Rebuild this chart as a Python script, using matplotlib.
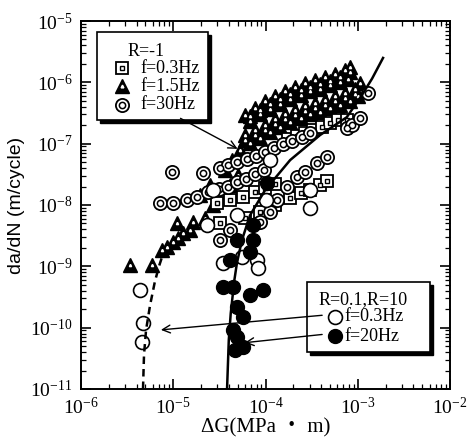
import matplotlib.pyplot as plt
from matplotlib.patches import Rectangle
from matplotlib.ticker import LogLocator, NullFormatter

plt.rcParams['font.family'] = ['Liberation Serif', 'Noto Sans CJK JP', 'DejaVu Sans']
plt.rcParams['mathtext.fontset'] = 'custom'
plt.rcParams['mathtext.rm'] = 'Liberation Serif'
plt.rcParams['mathtext.it'] = 'Liberation Serif:italic'

# R=-1, f=1.5Hz (triangles)
tri_x = [3.4e-6, 5.9e-6, 7.6e-6, 8.6e-6, 9.9e-6, 1.12e-5, 1.28e-5, 1.52e-5, 1.64e-5, 1.10e-5,
         2.2e-5, 2.7e-5, 3.4e-5, 4.1e-5, 5.0e-5, 1.95e-5, 2.5e-5, 3.6e-5, 4.3e-5, 5.3e-5,
         6.0e-5, 7.7e-5, 9.9e-5, 1.27e-4, 1.63e-4, 2.1e-4, 2.7e-4, 3.4e-4, 4.4e-4, 5.7e-4, 7.3e-4, 8.2e-4,
         6.8e-5, 8.7e-5, 1.12e-4, 1.44e-4, 1.85e-4, 2.4e-4, 3.0e-4, 3.9e-4, 5.0e-4, 6.4e-4, 7.8e-4,
         6.8e-5, 8.7e-5, 1.12e-4, 1.44e-4, 1.85e-4, 2.4e-4, 3.0e-4, 3.9e-4, 5.0e-4, 6.4e-4, 8.2e-4,
         6.0e-5, 7.7e-5, 9.9e-5, 1.27e-4, 1.63e-4, 2.1e-4, 2.7e-4, 3.4e-4, 4.4e-4, 5.7e-4, 7.3e-4, 9.3e-4, 1.06e-3,
         6.8e-5, 8.7e-5, 1.12e-4, 1.44e-4, 1.85e-4, 2.4e-4, 3.0e-4, 3.9e-4, 5.0e-4, 6.4e-4, 8.2e-4, 1.0e-3,
         6.0e-5, 7.7e-5, 9.9e-5, 1.27e-4, 1.63e-4, 2.1e-4, 2.7e-4, 3.4e-4, 4.4e-4, 5.7e-4, 7.3e-4, 9.3e-4]
tri_y = [1.05e-9, 1.05e-9, 1.84e-9, 2.1e-9, 2.5e-9, 2.9e-9, 3.5e-9, 3.9e-9, 5.3e-9, 5.1e-9,
         6.1e-9, 1.0e-8, 1.45e-8, 2.1e-8, 3.1e-8, 1.45e-8, 2.1e-8, 3.7e-8, 5.4e-8, 7.9e-8,
         2.9e-7, 3.8e-7, 4.95e-7, 6.0e-7, 7.2e-7, 8.4e-7, 9.8e-7, 1.09e-6, 1.22e-6, 1.37e-6, 1.59e-6, 1.78e-6,
         2.3e-7, 3.0e-7, 3.7e-7, 4.5e-7, 5.3e-7, 6.2e-7, 7.1e-7, 7.9e-7, 8.9e-7, 1.01e-6, 1.15e-6,
         2.8e-7, 3.6e-7, 4.5e-7, 5.4e-7, 6.4e-7, 7.5e-7, 8.5e-7, 9.5e-7, 1.07e-6, 1.22e-6, 1.47e-6,
         1.38e-7, 1.67e-7, 2.0e-7, 2.5e-7, 3.0e-7, 3.5e-7, 4.1e-7, 4.6e-7, 5.1e-7, 6.0e-7, 6.7e-7, 7.8e-7, 9.8e-7,
         1.04e-7, 1.26e-7, 1.55e-7, 1.90e-7, 2.25e-7, 2.6e-7, 3.0e-7, 3.3e-7, 3.8e-7, 4.3e-7, 4.95e-7, 6.0e-7,
         1.15e-7, 1.38e-7, 1.67e-7, 2.1e-7, 2.5e-7, 2.9e-7, 3.4e-7, 3.8e-7, 4.3e-7, 4.95e-7, 5.5e-7, 6.4e-7]

# R=-1, f=0.3Hz (squares)
sq_x = [1.75e-4, 2.2e-4, 2.7e-4, 3.3e-4, 4.1e-4, 5.0e-4, 6.1e-4, 7.6e-4,
        3.0e-5, 4.1e-5, 5.7e-5, 7.7e-5, 9.9e-5, 1.27e-4,
        3.2e-5, 6.0e-5, 8.7e-5, 1.27e-4, 1.85e-4, 2.4e-4, 3.0e-4, 3.9e-4, 4.6e-4]
sq_y = [1.19e-7, 1.33e-7, 1.49e-7, 1.67e-7, 1.87e-7, 2.2e-7, 2.4e-7, 2.4e-7,
        1.07e-8, 1.2e-8, 1.35e-8, 1.62e-8, 1.89e-8, 2.2e-8,
        5.1e-9, 6.1e-9, 7.7e-9, 1.0e-8, 1.30e-8, 1.56e-8, 1.75e-8, 2.1e-8, 2.5e-8]

# R=-1, f=30Hz (double circles)
dc_x = [9.7e-6, 2.1e-5,
        7.2e-6, 9.9e-6, 1.41e-5, 1.81e-5, 2.4e-5, 3.1e-5, 3.9e-5, 4.9e-5, 6.2e-5, 7.7e-5, 9.6e-5,
        3.2e-5, 3.9e-5, 4.9e-5, 6.3e-5, 7.9e-5, 9.9e-5, 1.24e-4, 1.55e-4, 1.94e-4, 2.5e-4, 3.0e-4,
        7.6e-4, 8.7e-4, 1.06e-3, 1.29e-3,
        3.2e-5, 4.1e-5, 8.7e-5, 1.12e-4, 1.33e-4, 1.71e-4, 2.2e-4, 2.7e-4, 3.6e-4, 4.6e-4]
dc_y = [3.4e-8, 3.3e-8,
        1.07e-8, 1.07e-8, 1.2e-8, 1.35e-8, 1.62e-8, 1.82e-8, 2.0e-8, 2.4e-8, 2.7e-8, 3.2e-8, 3.7e-8,
        4.0e-8, 4.5e-8, 5.0e-8, 5.6e-8, 6.3e-8, 7.3e-8, 8.5e-8, 9.8e-8, 1.10e-7, 1.28e-7, 1.49e-7,
        1.8e-7, 2.0e-7, 2.6e-7, 6.7e-7,
        2.7e-9, 3.9e-9, 5.3e-9, 7.7e-9, 1.2e-8, 1.96e-8, 2.85e-8, 3.4e-8, 4.8e-8, 6.0e-8]

# R=0.1, R=10, f=0.3Hz (open circles)
oc_x = [4.4e-6, 4.7e-6, 4.6e-6, 2.3e-5, 2.7e-5, 4.9e-5, 3.5e-5, 5.6e-5, 8.1e-5, 8.3e-5,
        1.12e-4, 3.0e-4, 3.0e-4, 1.0e-4]
oc_y = [4.1e-10, 1.18e-10, 5.8e-11, 4.7e-9, 1.75e-8, 6.8e-9, 1.13e-9, 1.41e-9, 1.26e-9, 9.4e-10,
        5.4e-8, 1.75e-8, 8.9e-9, 1.2e-8]

# R=0.1, R=10, f=20Hz (filled circles)
fc_x = [7.3e-5, 6.8e-5, 4.9e-5, 4.1e-5, 3.5e-5, 4.4e-5, 6.8e-5, 9.4e-5, 4.9e-5, 5.7e-5,
        4.4e-5, 4.9e-5, 4.7e-5, 5.7e-5, 1.04e-4, 7.3e-5]
fc_y = [2.7e-9, 1.7e-9, 2.7e-9, 1.26e-9, 4.6e-10, 4.6e-10, 3.4e-10, 4.1e-10, 2.2e-10, 1.48e-10,
        9.1e-11, 7.0e-11, 4.3e-11, 4.8e-11, 2.3e-8, 4.7e-9]

# fitted curves
solid_x = [3.83e-5, 4.0e-5, 4.2e-5, 4.6e-5, 4.9e-5, 5.56e-5, 6.8e-5, 9.9e-5, 1.85e-4, 3.9e-4,
           7.6e-4, 1.11e-3, 1.43e-3, 1.88e-3]
solid_y = [1.0e-11, 6.3e-11, 1.72e-10, 6.0e-10, 1.13e-9, 2.7e-9, 6.8e-9, 1.75e-8, 5.4e-8, 1.38e-7,
           2.7e-7, 6.2e-7, 1.15e-6, 2.5e-6]
dash_x = [4.70e-6, 4.82e-6, 5.07e-6, 5.6e-6, 6.3e-6, 7.0e-6, 7.55e-6]
dash_y = [1.0e-11, 3.6e-11, 9.1e-11, 2.3e-10, 5.5e-10, 1.0e-9, 1.41e-9]

fig = plt.figure(figsize=(4.74, 4.46), dpi=100)
ax = fig.add_axes([81 / 474, 57 / 446, 369 / 474, 368 / 446])
ax.set_xscale('log')
ax.set_yscale('log')
ax.set_xlim(1e-6, 1e-2)
ax.set_ylim(1e-11, 1e-5)

ms = 9.5
ax.plot(tri_x, tri_y, '^', ms=ms, mfc='black', mec='black', zorder=2)
ax.plot(tri_x, tri_y, '^', ms=1.6, mfc='white', mec='white', zorder=2)
ax.plot(sq_x, sq_y, 's', ms=8, mfc='white', mec='black', mew=1.3, zorder=3)
ax.plot(sq_x, sq_y, 's', ms=3.5, mfc='white', mec='black', mew=1.0, zorder=3)
ax.plot(dc_x, dc_y, 'o', ms=ms, mfc='white', mec='black', mew=1.3, zorder=3)
ax.plot(dc_x, dc_y, 'o', ms=4.5, mfc='white', mec='black', mew=1.1, zorder=3)
ax.plot(oc_x, oc_y, 'o', ms=10, mfc='white', mec='black', mew=1.2, zorder=4)
ax.plot(fc_x, fc_y, 'o', ms=10, mfc='black', mec='black', zorder=4)

ax.plot(solid_x, solid_y, '-', color='black', lw=1.8, zorder=5)
ax.plot(dash_x, dash_y, '--', color='black', lw=1.8, dashes=(3, 2), zorder=5)

for s in ax.spines.values():
    s.set_linewidth(1.4)
for axis in (ax.xaxis, ax.yaxis):
    axis.set_major_locator(LogLocator(base=10, numticks=20))
    axis.set_minor_locator(LogLocator(base=10, subs=range(2, 10), numticks=20))
    axis.set_minor_formatter(NullFormatter())
ax.tick_params(which='both', direction='in', top=True, right=True)
ax.tick_params(which='major', length=7, width=1.2, labelsize=14, pad=6)
ax.tick_params(which='minor', length=3.5, width=0.9)

ax.set_xlabel('\u0394G(MPa \u30fb m)', fontsize=15, labelpad=0)
ax.set_ylabel('da/dN (m/cycle)', fontsize=14, family=['Liberation Sans'], labelpad=4)

# legend boxes with drop shadow
def box(x0, y0, x1, y1):
    ax.add_patch(Rectangle((x0 + 0.008, y0 - 0.008), x1 - x0, y1 - y0, transform=ax.transAxes,
                           facecolor='black', edgecolor='black', zorder=6, clip_on=False))
    ax.add_patch(Rectangle((x0, y0), x1 - x0, y1 - y0, transform=ax.transAxes,
                           facecolor='white', edgecolor='black', lw=1.2, zorder=7, clip_on=False))

box(0.043, 0.731, 0.344, 0.970)
ax.text(0.125, 0.916, 'R=-1', transform=ax.transAxes, fontsize=13, va='center', zorder=8)
rows = [(0.872, 'f=0.3Hz'), (0.823, 'f=1.5Hz'), (0.772, 'f=30Hz')]
ax.plot([0.111], [0.872], 's', ms=8, mfc='white', mec='black', mew=1.3, transform=ax.transAxes, zorder=8)
ax.plot([0.111], [0.872], 's', ms=3.5, mfc='white', mec='black', mew=1.0, transform=ax.transAxes, zorder=8)
ax.plot([0.111], [0.823], '^', ms=ms, mfc='black', mec='black', transform=ax.transAxes, zorder=8)
ax.plot([0.111], [0.823], '^', ms=2.0, mfc='white', mec='white', transform=ax.transAxes, zorder=8)
ax.plot([0.111], [0.772], 'o', ms=ms, mfc='white', mec='black', mew=1.3, transform=ax.transAxes, zorder=8)
ax.plot([0.111], [0.772], 'o', ms=4.5, mfc='white', mec='black', mew=1.1, transform=ax.transAxes, zorder=8)
for yy, lab in rows:
    ax.text(0.160, yy, lab, transform=ax.transAxes, fontsize=13, va='center', zorder=8)

box(0.612, 0.101, 0.946, 0.291)
ax.text(0.764, 0.242, 'R=0.1,R=10', transform=ax.transAxes, fontsize=13, ha='center', va='center', zorder=8)
ax.plot([0.688], [0.196], 'o', ms=10, mfc='white', mec='black', mew=1.2, transform=ax.transAxes, zorder=8)
ax.plot([0.688], [0.144], 'o', ms=10, mfc='black', mec='black', transform=ax.transAxes, zorder=8)
ax.text(0.715, 0.196, 'f=0.3Hz', transform=ax.transAxes, fontsize=13, va='center', zorder=8)
ax.text(0.715, 0.144, 'f=20Hz', transform=ax.transAxes, fontsize=13, va='center', zorder=8)

arrow = dict(arrowstyle='->', color='black', lw=1.0, mutation_scale=14)
ax.annotate('', xy=(0.431, 0.649), xytext=(0.263, 0.739), xycoords='axes fraction', arrowprops=arrow, zorder=9)
ax.annotate('', xy=(0.209, 0.160), xytext=(0.661, 0.201), xycoords='axes fraction', arrowprops=arrow, zorder=9)
ax.annotate('', xy=(0.436, 0.125), xytext=(0.661, 0.149), xycoords='axes fraction', arrowprops=arrow, zorder=9)

fig.savefig('out.png', dpi=100)
